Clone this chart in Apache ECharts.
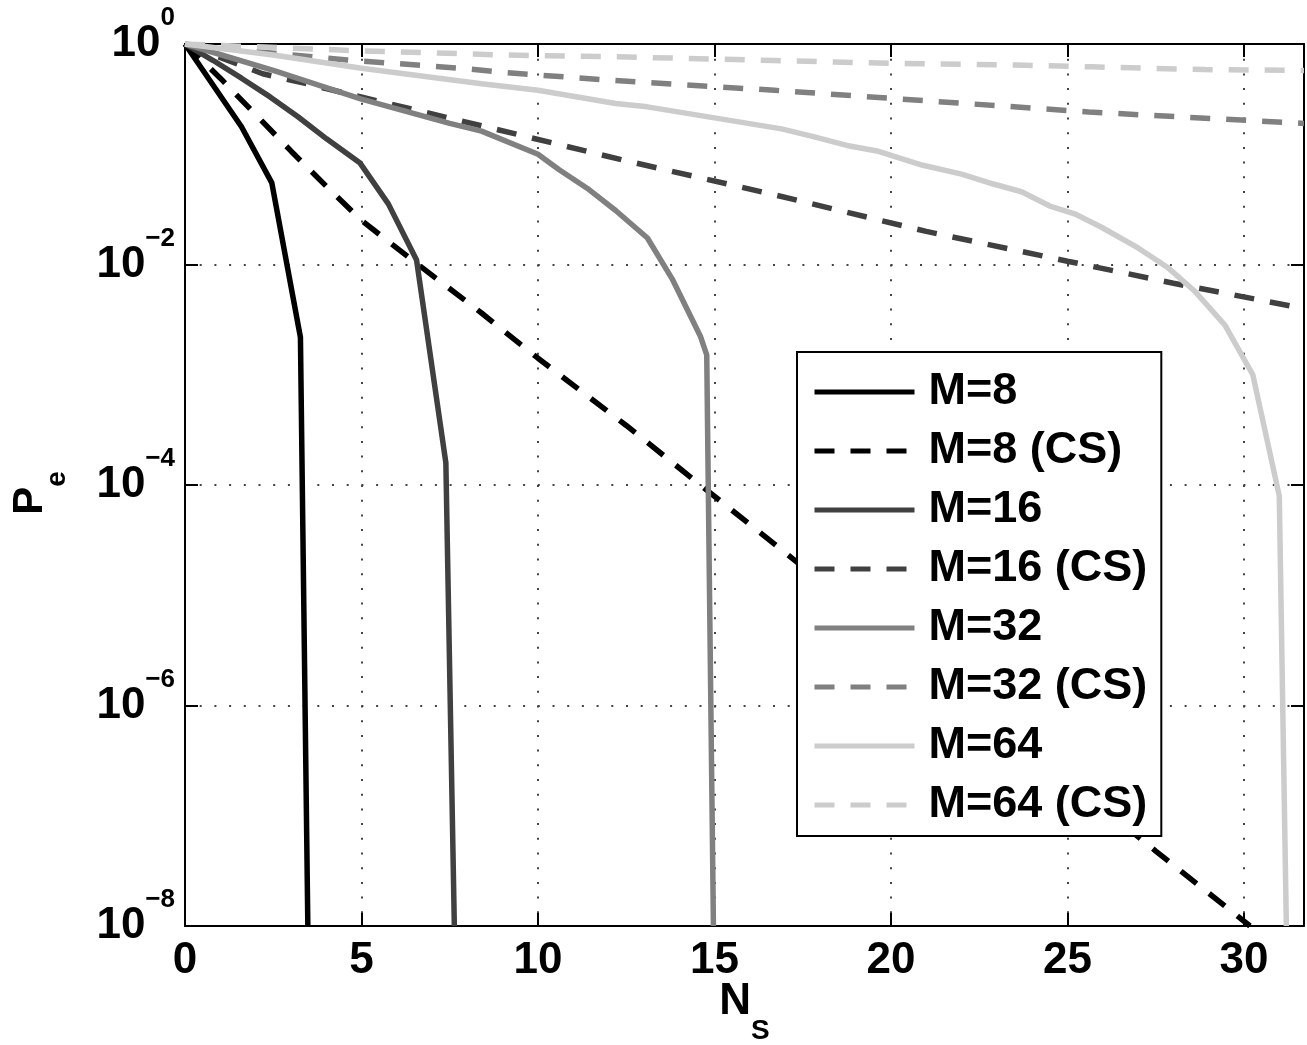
<!DOCTYPE html>
<html>
<head>
<meta charset="utf-8">
<title>Pe vs Ns</title>
<script src="https://cdn.jsdelivr.net/npm/echarts/dist/echarts.min.js"></script>
<style>
  html, body { margin: 0; padding: 0; background: #fff; }
  #chart { width: 1307px; height: 1045px; }
</style>
</head>
<body>
<div id="chart"></div>
<script>
// x = N_S, y = log10(P_e)
var m8X = [0, 1.6, 2.46, 3.27, 3.48]
var m8Y = [0, -0.75, -1.26, -2.66, -8]

var m8csX = [0, 1, 2, 3, 4, 5, 6.6, 8.4, 10, 12.5, 14.6, 17.3, 20, 22.5, 25, 27.5, 30.17]
var m8csY = [0, -0.31, -0.64, -0.97, -1.29, -1.6, -2.0, -2.44, -2.85, -3.46, -4.0, -4.69, -5.38, -6.02, -6.67, -7.32, -8]

var m16X = [0, 0.8, 1.6, 2.41, 3.2, 4.01, 4.96, 5.76, 6.56, 7.39, 7.63]
var m16Y = [0, -0.15, -0.31, -0.48, -0.66, -0.86, -1.08, -1.45, -1.96, -3.8, -8]

var m16csX = [0, 2.2, 3.45, 4.58, 8.64, 12.5, 16.6, 21, 25, 28, 31.7]
var m16csY = [0, -0.27, -0.36, -0.45, -0.76, -1.06, -1.36, -1.70, -1.97, -2.17, -2.40]

var m32X = [0, 2.5, 5, 7.5, 8.4, 10, 10.6, 11.4, 12.2, 13.1, 13.8, 14.6, 14.78, 14.97]
var m32Y = [0, -0.24, -0.5, -0.72, -0.79, -1.0, -1.14, -1.31, -1.51, -1.76, -2.13, -2.65, -2.82, -8]

var m32csX = [0, 2, 4.6, 7.8, 9.1, 12.1, 16.7, 20.1, 25.6, 31.7]
var m32csY = [0, -0.07, -0.145, -0.22, -0.26, -0.33, -0.42, -0.495, -0.617, -0.72]

var m64X = [0, 2.5, 5, 8.4, 10, 12.2, 13.1, 15, 16.9, 17.8, 18.75, 19.6, 20.9, 22, 22.9, 23.7, 24.5, 25.2, 25.95, 27, 27.85, 28.6, 29.46, 30.25, 31.0, 31.2]
var m64Y = [0, -0.1, -0.22, -0.36, -0.42, -0.54, -0.57, -0.67, -0.77, -0.84, -0.92, -0.97, -1.10, -1.18, -1.27, -1.34, -1.47, -1.54, -1.66, -1.85, -2.03, -2.24, -2.55, -3.0, -4.1, -8]

var m64csX = [0, 4.8, 9.1, 12.1, 16.7, 20.1, 23.5, 25.7, 28.9, 31.7]
var m64csY = [0, -0.06, -0.10, -0.115, -0.15, -0.176, -0.19, -0.207, -0.232, -0.24]

var xTicks = [0, 5, 10, 15, 20, 25, 30]
var yExponents = [0, -2, -4, -6, -8]

var tickFont = '"Liberation Sans Narrow", "Liberation Sans", Arial, sans-serif'
var legendFont = '"Liberation Sans", Arial, sans-serif'
var dash = [20, 16]
var grid = [2, 12.7]

function pairs(xs, ys) {
  return xs.map(function(x, i) { return [x, ys[i]] })
}

function line(name, xs, ys, color, dashed) {
  return {
    name: name,
    type: 'line',
    data: pairs(xs, ys),
    symbol: 'none',
    showSymbol: false,
    clip: true,
    lineStyle: { color: color, width: 5.5, type: dashed ? dash : 'solid' },
    itemStyle: { color: color }
  }
}

var chart = echarts.init(document.getElementById('chart'))
chart.setOption({
  animation: false,
  backgroundColor: '#ffffff',
  grid: { left: 185, top: 44, right: 3, bottom: 119, containLabel: false, outerBoundsMode: 'none' },
  legend: {
    left: 797,
    top: 352,
    orient: 'vertical',
    selectedMode: false,
    backgroundColor: '#ffffff',
    borderColor: '#000000',
    borderWidth: 2,
    borderRadius: 0,
    padding: [15, 14, 6, 15],
    itemWidth: 100,
    itemHeight: 14,
    itemGap: 9,
    lineStyle: { width: 5 },
    itemStyle: { color: 'rgba(0,0,0,0)', borderWidth: 0, opacity: 0 },
    textStyle: {
      fontFamily: legendFont,
      fontWeight: 'bold',
      fontSize: 45,
      lineHeight: 50,
      color: '#000000',
      padding: [0, 0, 0, 9]
    }
  },
  xAxis: [{
    type: 'value',
    min: 0,
    max: 31.7,
    interval: 5,
    position: 'bottom',
    name: 'N{s|S}',
    nameLocation: 'middle',
    nameGap: 54,
    nameMoveOverlap: false,
    nameTextStyle: {
      fontFamily: tickFont,
      fontWeight: 'bold',
      fontSize: 44,
      lineHeight: 44,
      color: '#000',
      rich: {
        s: { fontFamily: tickFont, fontWeight: 'bold', fontSize: 28, lineHeight: 30, padding: [58, 0, 0, 0], color: '#000' }
      }
    },
    axisLine: { show: true, onZero: false, lineStyle: { color: '#000', width: 2 } },
    axisTick: { show: true, inside: true, length: 13, lineStyle: { color: '#000', width: 2 } },
    axisLabel: {
      margin: 13,
      showMaxLabel: false,
      fontFamily: tickFont,
      fontWeight: 'bold',
      fontSize: 44,
      lineHeight: 44,
      color: '#000',
      formatter: function(v) { return xTicks.indexOf(v) >= 0 ? String(v) : '' }
    },
    splitLine: { show: true, lineStyle: { color: '#444', width: 2, type: grid } }
  }, {
    type: 'value',
    min: 0,
    max: 31.7,
    interval: 5,
    position: 'top',
    axisLine: { show: true, onZero: false, lineStyle: { color: '#000', width: 2 } },
    axisTick: { show: true, inside: true, length: 13, lineStyle: { color: '#000', width: 2 } },
    axisLabel: { show: false },
    splitLine: { show: false }
  }],
  yAxis: [{
    type: 'value',
    min: -8,
    max: 0,
    interval: 2,
    position: 'left',
    name: 'P{s|e}',
    nameLocation: 'middle',
    nameRotate: 90,
    nameGap: 133,
    nameMoveOverlap: false,
    nameTextStyle: {
      fontFamily: tickFont,
      fontWeight: 'bold',
      fontSize: 42,
      lineHeight: 44,
      color: '#000',
      padding: [0, 16, 0, 0],
      rich: {
        s: { fontFamily: tickFont, fontWeight: 'bold', fontSize: 28, lineHeight: 30, padding: [54, 0, 0, 0], color: '#000' }
      }
    },
    axisLine: { show: true, onZero: false, lineStyle: { color: '#000', width: 2 } },
    axisTick: { show: true, inside: true, length: 13, lineStyle: { color: '#000', width: 2 } },
    axisLabel: {
      margin: 10,
      color: '#000',
      formatter: function(v) {
        if (yExponents.indexOf(v) < 0) return ''
        return '{b|10}{s|' + (v === 0 ? '0' : '\u2212' + (-v)) + '}'
      },
      rich: {
        b: { fontFamily: tickFont, fontWeight: 'bold', fontSize: 44, lineHeight: 44, color: '#000' },
        s: { fontFamily: tickFont, fontWeight: 'bold', fontSize: 26, lineHeight: 30, padding: [0, 0, 52, 0], color: '#000' }
      }
    },
    splitLine: { show: true, lineStyle: { color: '#444', width: 2, type: grid } }
  }, {
    type: 'value',
    min: -8,
    max: 0,
    interval: 2,
    position: 'right',
    axisLine: { show: true, onZero: false, lineStyle: { color: '#000', width: 2 } },
    axisTick: { show: true, inside: true, length: 13, lineStyle: { color: '#000', width: 2 } },
    axisLabel: { show: false },
    splitLine: { show: false }
  }],
  series: [
    line('M=8', m8X, m8Y, '#000000', false),
    line('M=8 (CS)', m8csX, m8csY, '#000000', true),
    line('M=16', m16X, m16Y, '#404040', false),
    line('M=16 (CS)', m16csX, m16csY, '#404040', true),
    line('M=32', m32X, m32Y, '#808080', false),
    line('M=32 (CS)', m32csX, m32csY, '#808080', true),
    line('M=64', m64X, m64Y, '#cccccc', false),
    line('M=64 (CS)', m64csX, m64csY, '#cccccc', true)
  ]
})
</script>
</body>
</html>
